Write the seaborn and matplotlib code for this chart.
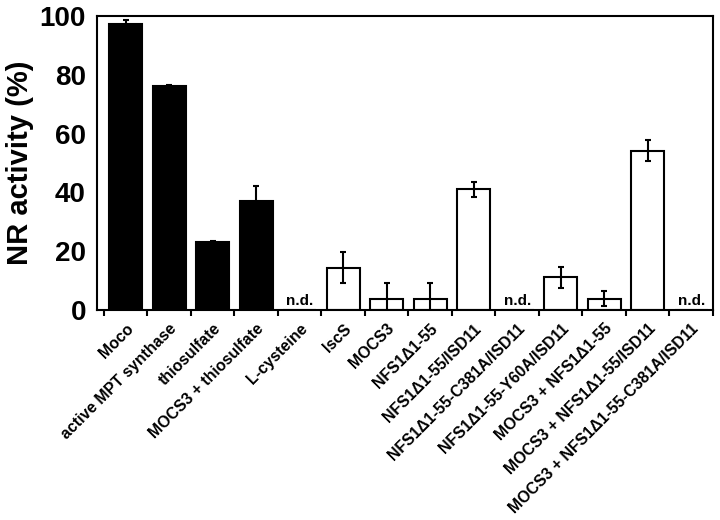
import numpy as np
import pandas as pd
import matplotlib
matplotlib.use("Agg")
import matplotlib.pyplot as plt
import seaborn as sns

samples = [
    "Moco", "active MPT synthase", "thiosulfate", "MOCS3 + thiosulfate",
    "L-cysteine", "IscS", "MOCS3", "NFS1\u03941-55", "NFS1\u03941-55/ISD11",
    "NFS1\u03941-55-C381A/ISD11", "NFS1\u03941-55-Y60A/ISD11",
    "MOCS3 + NFS1\u03941-55", "MOCS3 + NFS1\u03941-55/ISD11",
    "MOCS3 + NFS1\u03941-55-C381A/ISD11",
]
activity = [97.3, 76.2, 23.0, 37.0, 0, 14.4, 3.9, 3.9, 41.0, 0, 11.1, 3.9, 54.2, 0]
errors = [1.2, 0.4, 0.4, 5.2, 0, 5.2, 5.2, 5.2, 2.5, 0, 3.5, 2.6, 3.6, 0]
not_detected = [False, False, False, False, True, False, False, False, False,
                True, False, False, False, True]
bar_colors = ["black"] * 4 + ["white"] * 10

df = pd.DataFrame({"sample": samples, "activity": activity, "err": errors,
                   "nd": not_detected})

sns.set_style("white")
plt.rcParams["font.family"] = ["Liberation Sans", "DejaVu Sans"]
plt.rcParams["font.weight"] = "bold"
for k in ["text.color", "axes.labelcolor", "xtick.color", "ytick.color"]:
    plt.rcParams[k] = "black"

fig = plt.figure(figsize=(7.2, 5.2), dpi=100)
ax = fig.add_axes([97 / 720, 1 - 310 / 520, (713 - 97) / 720, (310 - 16) / 520])

sns.barplot(data=df, x="sample", y="activity", hue="sample",
            palette=bar_colors, legend=False, width=0.75,
            edgecolor="black", linewidth=1.5, ax=ax)

x = np.arange(len(samples))
shown = ~df["nd"].values
ax.errorbar(x[shown], df["activity"][shown], yerr=df["err"][shown],
            fmt="none", ecolor="black", elinewidth=1.5, capsize=2.5, capthick=1.5,
            zorder=5)

for i in x[df["nd"].values]:
    ax.text(i, 0.8, "n.d.", ha="center", va="bottom", fontsize=11,
            fontweight="bold")

ax.set_ylim(0, 100)
ax.set_xlim(-0.66, len(samples) - 0.5)
ax.set_yticks([0, 20, 40, 60, 80, 100])
ax.tick_params(axis="y", length=0, pad=8, labelsize=20)
ax.set_xticks(x)
ax.set_xticklabels(samples, rotation=45, ha="right", rotation_mode="anchor",
                   fontsize=11.4, fontweight="bold")
ax.tick_params(axis="x", which="major", length=0, pad=8)
ax.set_xticks(np.arange(len(samples) + 1) - 0.5, minor=True)
ax.tick_params(axis="x", which="minor", length=4, width=1.5, direction="out",
               bottom=True)
ax.set_xlabel("")
ax.set_ylabel("NR activity (%)", fontsize=21, fontweight="bold", labelpad=4)

for s in ax.spines.values():
    s.set_visible(True)
    s.set_linewidth(1.5)
    s.set_color("black")

fig.savefig("out.png", dpi=100)
